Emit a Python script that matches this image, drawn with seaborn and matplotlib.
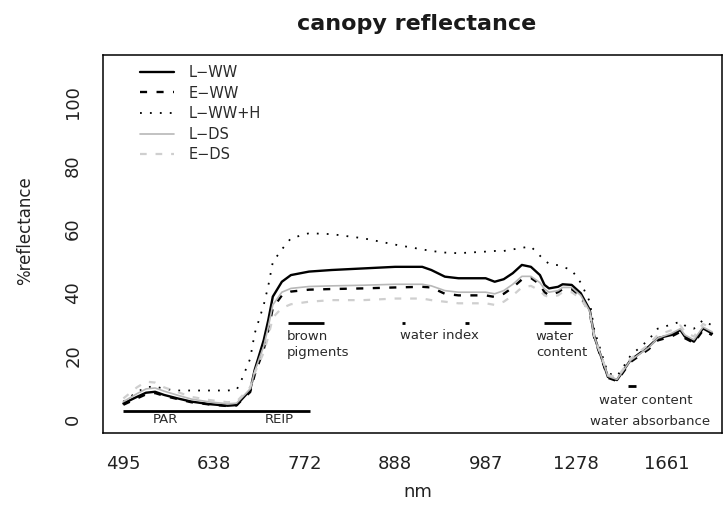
import matplotlib
matplotlib.use("Agg")
import matplotlib.pyplot as plt
import seaborn as sns
import pandas as pd

# Spectral band index (evenly spaced axis) and the reflectance curves
band = [0, 3, 5, 7, 9, 12, 15, 19, 23, 25, 26, 28, 29, 31, 32, 33, 35, 37, 41, 46,
        53, 60, 66, 68, 71, 74, 80, 82, 84, 86, 88, 90, 92, 93, 94, 96, 97, 99, 101, 103,
        104, 106, 107, 109, 110, 112, 116, 118, 121, 123, 124, 126, 128, 130]

l_ww = [4.9, 7.0, 8.3, 8.6, 7.6, 6.5, 5.5, 4.7, 4.2, 4.4, 6.0, 9.1, 15.5, 24.9, 31.2, 38.6, 43.3, 45.4, 46.5, 47.0,
        47.5, 48.0, 48.0, 47.0, 44.9, 44.4, 44.4, 43.3, 44.1, 46.0, 48.6, 48.0, 45.4, 42.3, 41.2, 41.7, 42.5, 42.3, 39.7, 34.4,
        26.0, 17.6, 13.3, 12.3, 14.4, 18.6, 22.8, 25.5, 26.5, 28.1, 26.0, 24.4, 28.6, 27.0]
e_ww = [4.5, 6.5, 7.8, 8.2, 7.3, 6.3, 5.3, 4.6, 4.1, 4.3, 5.8, 8.5, 14.0, 22.0, 28.0, 35.0, 39.0, 40.2, 40.8, 41.0,
        41.2, 41.5, 41.7, 41.5, 39.5, 39.0, 39.0, 38.5, 39.5, 41.5, 44.0, 44.5, 42.5, 40.0, 39.0, 40.0, 41.0, 41.0, 38.5, 33.5,
        25.5, 17.3, 13.0, 12.0, 14.0, 18.0, 22.0, 24.8, 26.0, 27.5, 25.5, 24.0, 28.0, 26.5]
l_ww_h = [5.5, 8.5, 10.0, 10.3, 9.5, 9.0, 9.0, 9.0, 9.0, 9.2, 12.0, 19.0, 27.0, 36.0, 42.0, 49.5, 53.5, 57.0, 58.6, 58.3,
          57.0, 55.0, 53.5, 53.0, 52.5, 52.3, 52.8, 53.0, 53.0, 53.5, 54.0, 54.4, 51.5, 50.0, 49.0, 48.5, 48.0, 47.0, 43.0, 37.0,
          28.0, 19.0, 14.5, 13.5, 15.5, 20.0, 25.0, 28.5, 29.8, 30.7, 29.5, 28.5, 31.2, 29.5]
l_ds = [5.5, 8.0, 9.5, 9.8, 8.8, 7.5, 6.3, 5.4, 4.8, 5.0, 6.5, 9.5, 15.0, 23.0, 29.0, 36.0, 40.0, 41.2, 41.8, 42.0,
        42.2, 42.5, 42.5, 42.0, 40.5, 40.0, 40.0, 39.5, 40.5, 42.5, 45.0, 45.0, 43.0, 41.0, 40.0, 40.5, 41.5, 41.5, 39.0, 34.0,
        26.0, 17.8, 13.5, 12.5, 14.5, 18.5, 22.5, 25.5, 27.0, 28.5, 26.5, 25.0, 29.0, 27.5]
e_ds = [6.5, 10.0, 11.8, 11.5, 10.0, 8.5, 7.0, 6.0, 5.3, 5.5, 7.0, 10.0, 14.5, 21.0, 26.0, 32.0, 35.0, 36.2, 37.0, 37.5,
        37.5, 38.0, 38.0, 37.5, 37.0, 36.5, 36.5, 36.0, 37.0, 39.0, 41.5, 42.0, 40.5, 39.0, 38.5, 39.0, 40.0, 40.0, 38.0, 33.5,
        26.0, 18.0, 14.0, 13.0, 15.0, 19.0, 23.5, 26.5, 28.0, 29.5, 27.5, 26.0, 30.0, 28.5]

treatments = ["L\u2212WW", "E\u2212WW", "L\u2212WW+H", "L\u2212DS", "E\u2212DS"]
series = [l_ww, e_ww, l_ww_h, l_ds, e_ds]

tick_band = [0, 20, 40, 60, 80, 100, 120]
tick_nm = ["495", "638", "772", "888", "987", "1278", "1661"]
y_ticks = [0, 20, 40, 60, 80, 100]

# Spectral regions of interest: horizontal bars (start, end, level)
bar_start = [0, 36.4, 92.9]
bar_end = [41.2, 44.3, 98.9]
bar_level = [2.5, 30.4, 30.4]
mark_band = [61.8, 75.9, 112.3]
mark_level = [30.4, 30.4, 10.4]
mark_half = [0.35, 0.35, 0.8]

sns.set_style("white")
plt.rcParams["font.family"] = ["DejaVu Sans"]
plt.rcParams["axes.unicode_minus"] = True

df = pd.concat(
    [pd.DataFrame({"band": band, "reflectance": vals, "treatment": name})
     for name, vals in zip(treatments, series)],
    ignore_index=True,
)

styles = {
    "L\u2212WW": dict(color="black", lw=1.7, linestyle="-"),
    "E\u2212WW": dict(color="black", lw=1.7, linestyle=(0, (3.0, 4.0))),
    "L\u2212WW+H": dict(color="black", lw=1.3, linestyle=(0, (1.0, 4.5))),
    "L\u2212DS": dict(color="#b8b8b8", lw=1.2, linestyle="-"),
    "E\u2212DS": dict(color="#cfcfcf", lw=1.6, linestyle=(0, (3.0, 4.0))),
}

W, H = 726, 505
fig = plt.figure(figsize=(W / 100, H / 100), dpi=100)
ax = fig.add_axes([103 / W, 1 - 433 / H, (722 - 103) / W, (433 - 55) / H])

for name in treatments:
    sub = df[df["treatment"] == name]
    sns.lineplot(data=sub, x="band", y="reflectance", ax=ax, label=name,
                 **styles[name])

# annotation bars and markers
for s, e, lv in zip(bar_start, bar_end, bar_level):
    ax.plot([s, e], [lv, lv], color="black", lw=2.0, solid_capstyle="butt")
for b, lv, hw in zip(mark_band, mark_level, mark_half):
    ax.plot([b - hw, b + hw], [lv, lv], color="black", lw=2.0, solid_capstyle="butt")

txt = dict(fontsize=9.5, color="#2a2a2a")
ax.text(9.2, -0.3, "PAR", ha="center", va="center", **txt)
ax.text(34.4, -0.3, "REIP", ha="center", va="center", **txt)
ax.text(36.1, 23.5, "brown\npigments", ha="left", va="center", linespacing=1.25, **txt)
ax.text(69.9, 26.2, "water index", ha="center", va="center", **txt)
ax.text(91.1, 23.5, "water\ncontent", ha="left", va="center", linespacing=1.25, **txt)
ax.text(115.4, 5.8, "water content", ha="center", va="center", **txt)
ax.text(116.3, -0.85, "water absorbance", ha="center", va="center", **txt)

ax.set_xlim(-4.5, 132.2)
ax.set_ylim(-4.4, 114.8)
ax.set_xticks(tick_band)
ax.set_xticklabels(tick_nm)
ax.set_yticks(y_ticks)
ax.set_yticklabels([str(v) for v in y_ticks], rotation=90, va="center")
ax.tick_params(axis="both", direction="out", length=8, width=1.0,
               labelsize=13, colors="black", labelcolor="#222222")
ax.tick_params(axis="x", pad=8)
ax.tick_params(axis="y", pad=7)
ax.set_xlabel("")
ax.set_ylabel("")
for sp in ax.spines.values():
    sp.set_visible(True)
    sp.set_color("black")
    sp.set_linewidth(1.1)

leg = ax.legend(loc="upper left", bbox_to_anchor=(140 / W, 1 - 65 / H),
                bbox_transform=fig.transFigure, frameon=False, fontsize=10.5,
                handlelength=2.35, handletextpad=0.95, labelspacing=0.38,
                borderpad=0, borderaxespad=0)
for t in leg.get_texts():
    t.set_color("#2a2a2a")

fig.text(417 / W, 1 - 24 / H, "canopy reflectance", ha="center", va="center",
         fontsize=16, fontweight="bold", color="#1a1a1a")
fig.text(25 / W, 1 - 231 / H, "%reflectance", rotation=90, ha="center",
         va="center", fontsize=12, color="#222222")
fig.text(418 / W, 1 - 492 / H, "nm", ha="center", va="center", fontsize=13,
         color="#222222")

fig.savefig("out.png", dpi=100)
